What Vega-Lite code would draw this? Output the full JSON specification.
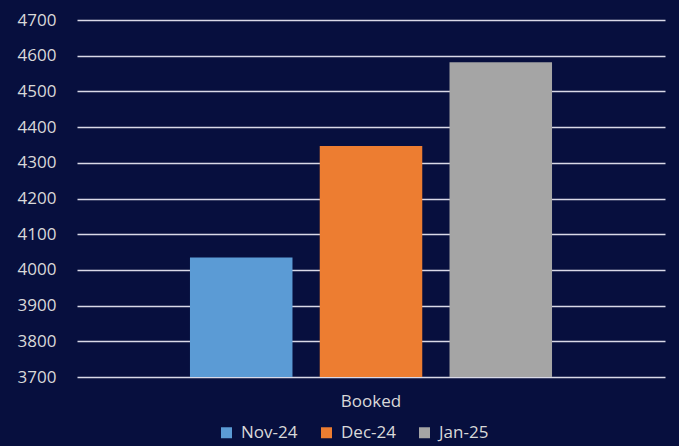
{
  "$schema": "https://vega.github.io/schema/vega-lite/v6.json",
  "width": 588,
  "height": 357,
  "autosize": {"type": "none"},
  "padding": {"left": 77, "top": 20, "right": 14, "bottom": 69},
  "background": "#070f3e",
  "data": {
    "values": [
      {"cat": "Booked", "month": "Nov-24", "value": 4035},
      {"cat": "Booked", "month": "Dec-24", "value": 4347},
      {"cat": "Booked", "month": "Jan-25", "value": 4582}
    ]
  },
  "mark": {"type": "bar", "clip": true},
  "encoding": {
    "x": {
      "field": "cat",
      "type": "nominal",
      "scale": {"paddingInner": 0, "paddingOuter": 0.312},
      "axis": {
        "title": null,
        "labelAngle": 0,
        "domain": false,
        "ticks": false,
        "labelPadding": 16,
        "labelColor": "#d9d9d9",
        "labelFont": "Open Sans",
        "labelFontSize": 17
      }
    },
    "xOffset": {
      "field": "month",
      "type": "nominal",
      "sort": ["Nov-24", "Dec-24", "Jan-25"],
      "scale": {"paddingInner": 0.21, "paddingOuter": 0}
    },
    "y": {
      "field": "value",
      "type": "quantitative",
      "scale": {"domain": [3700, 4700], "zero": false},
      "axis": {
        "title": null,
        "values": [3700, 3800, 3900, 4000, 4100, 4200, 4300, 4400, 4500, 4600, 4700],
        "format": "d",
        "domain": false,
        "ticks": false,
        "grid": true,
        "gridColor": "#d9d9e8",
        "gridWidth": 1.5,
        "gridOpacity": 1,
        "labelPadding": 21,
        "labelColor": "#d9d9d9",
        "labelFont": "Open Sans",
        "labelFontSize": 17
      }
    },
    "color": {
      "field": "month",
      "type": "nominal",
      "sort": ["Nov-24", "Dec-24", "Jan-25"],
      "scale": {"domain": ["Nov-24", "Dec-24", "Jan-25"], "range": ["#5b9bd5", "#ed7d31", "#a5a5a5"]},
      "legend": {
        "title": null,
        "orient": "none",
        "legendX": 141,
        "legendY": 404,
        "direction": "horizontal",
        "symbolType": "square",
        "symbolSize": 121,
        "symbolStrokeWidth": 0,
        "labelColor": "#d9d9d9",
        "labelFont": "Open Sans",
        "labelFontSize": 17,
        "labelOffset": 6,
        "columnPadding": 20
      }
    }
  },
  "config": {"view": {"stroke": null}}
}
